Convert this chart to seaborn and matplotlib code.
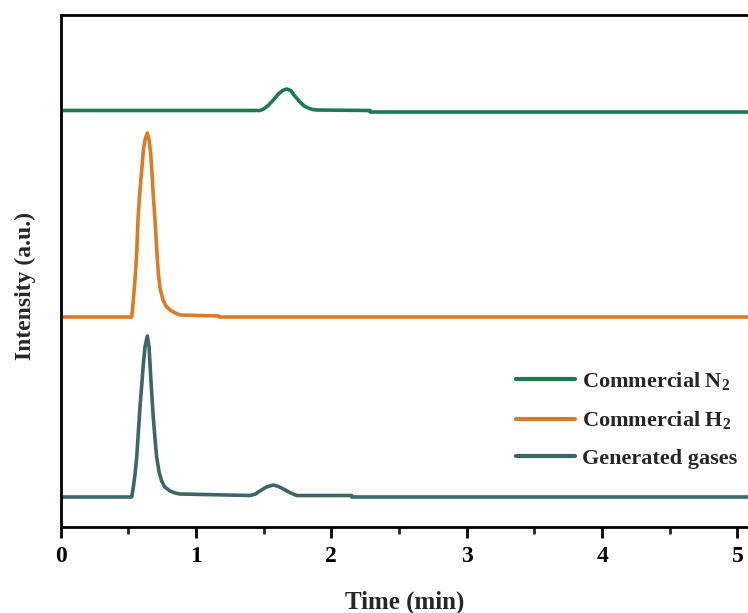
import numpy as np
import pandas as pd
import matplotlib
matplotlib.use("Agg")
import matplotlib.pyplot as plt
import seaborn as sns

# Chromatogram traces (time in min, detector signal in a.u. above each baseline)
n2_time = [0, 1.473, 1.50, 1.53, 1.572, 1.61, 1.64, 1.67, 1.70, 1.73, 1.769,
           1.80, 1.83, 1.86, 1.892, 2.286, 2.287, 5.5]
n2_signal = [1.5, 1.5, 3, 6, 12, 18, 21.5, 23, 21.5, 16, 10,
             6, 4, 2.5, 2, 1.5, 0, 0]

h2_time = [0, 0.526, 0.538, 0.550, 0.563, 0.572, 0.587, 0.600, 0.612, 0.624,
           0.641, 0.654, 0.666, 0.674, 0.685, 0.698, 0.710, 0.722, 0.735,
           0.757, 0.779, 0.809, 0.846, 0.883, 1.17, 1.171, 5.5]
h2_signal = [0, 0, 17, 37, 64, 97, 127, 147, 167, 177,
             184, 177, 164, 147, 122, 97, 69, 44, 29,
             17, 11, 7, 4, 2, 1, 0, 0]

gen_time = [0, 0.526, 0.538, 0.550, 0.563, 0.575, 0.587, 0.600, 0.612, 0.624,
            0.641, 0.654, 0.661, 0.673, 0.685, 0.698, 0.710, 0.728, 0.747,
            0.770, 0.809, 0.846, 0.883, 1.40, 1.44, 1.473, 1.52, 1.572, 1.61,
            1.646, 1.70, 1.744, 2.15, 2.151, 5.5]
gen_signal = [0, 0, 10, 22, 40, 65, 90, 112, 133, 150,
              161, 150, 133, 105, 80, 58, 40, 25, 16,
              10, 6, 4, 3, 1.5, 3, 6, 10, 12, 10.5,
              8, 4, 1.5, 1.5, 0, 0]

# Vertical stacking offsets of each trace
labels = ["Commercial N$_2$", "Commercial H$_2$", "Generated gases"]
offsets = [415, 210, 30]
colors = ["#1b7a4e", "#dc7a26", "#3b6767"]

frames = []
for lab, off, t, s in zip(labels, offsets, [n2_time, h2_time, gen_time],
                          [n2_signal, h2_signal, gen_signal]):
    frames.append(pd.DataFrame({"time": t,
                                "intensity": np.array(s) + off,
                                "trace": lab}))
df = pd.concat(frames, ignore_index=True)

sns.set_theme(style="ticks")
plt.rcParams["font.family"] = ["Liberation Serif", "DejaVu Serif"]
plt.rcParams["font.weight"] = "bold"
plt.rcParams["mathtext.fontset"] = "custom"
plt.rcParams["mathtext.rm"] = "Liberation Serif:bold"
plt.rcParams["mathtext.it"] = "Liberation Serif:bold"
plt.rcParams["mathtext.bf"] = "Liberation Serif:bold"

fig = plt.figure(figsize=(7.48, 6.13), dpi=100)
ax = fig.add_axes([60.5 / 748, 86 / 613, 5.5 * 135.4 / 748, 512 / 613])

sns.lineplot(data=df, x="time", y="intensity", hue="trace", hue_order=labels,
             palette=colors, sort=False, estimator=None, linewidth=2.6, ax=ax)

ax.set_xlim(0, 5.5)
ax.set_ylim(0, 512)
ax.set_yticks([])
ax.set_xticks([0, 1, 2, 3, 4, 5])
ax.set_xticks([0.5, 1.5, 2.5, 3.5, 4.5, 5.5], minor=True)
ax.tick_params(axis="x", which="major", direction="out", length=8, width=2,
               labelsize=17, pad=6, colors="black")
ax.tick_params(axis="x", which="minor", direction="out", length=5, width=2)
for lbl in ax.get_xticklabels():
    lbl.set_fontweight("bold")
for sp in ax.spines.values():
    sp.set_linewidth(2)
    sp.set_color("black")

ax.set_xlabel("Time (min)", fontsize=18, fontweight="bold")
ax.set_ylabel("Intensity (a.u.)", fontsize=17, fontweight="bold")
ax.xaxis.set_label_coords((405 - 60.5) / (5.5 * 135.4), -0.125)
ax.yaxis.set_label_coords(-0.033, 0.47)

leg = ax.legend(loc="upper left", bbox_to_anchor=(516 / 748, (613 - 370) / 613),
                bbox_transform=fig.transFigure, frameon=False, fontsize=16,
                borderpad=0, borderaxespad=0,
                handlelength=2.65, handletextpad=0.3, labelspacing=0.78)
for line in leg.get_lines():
    line.set_linewidth(3)

fig.savefig("out.png", dpi=100)
